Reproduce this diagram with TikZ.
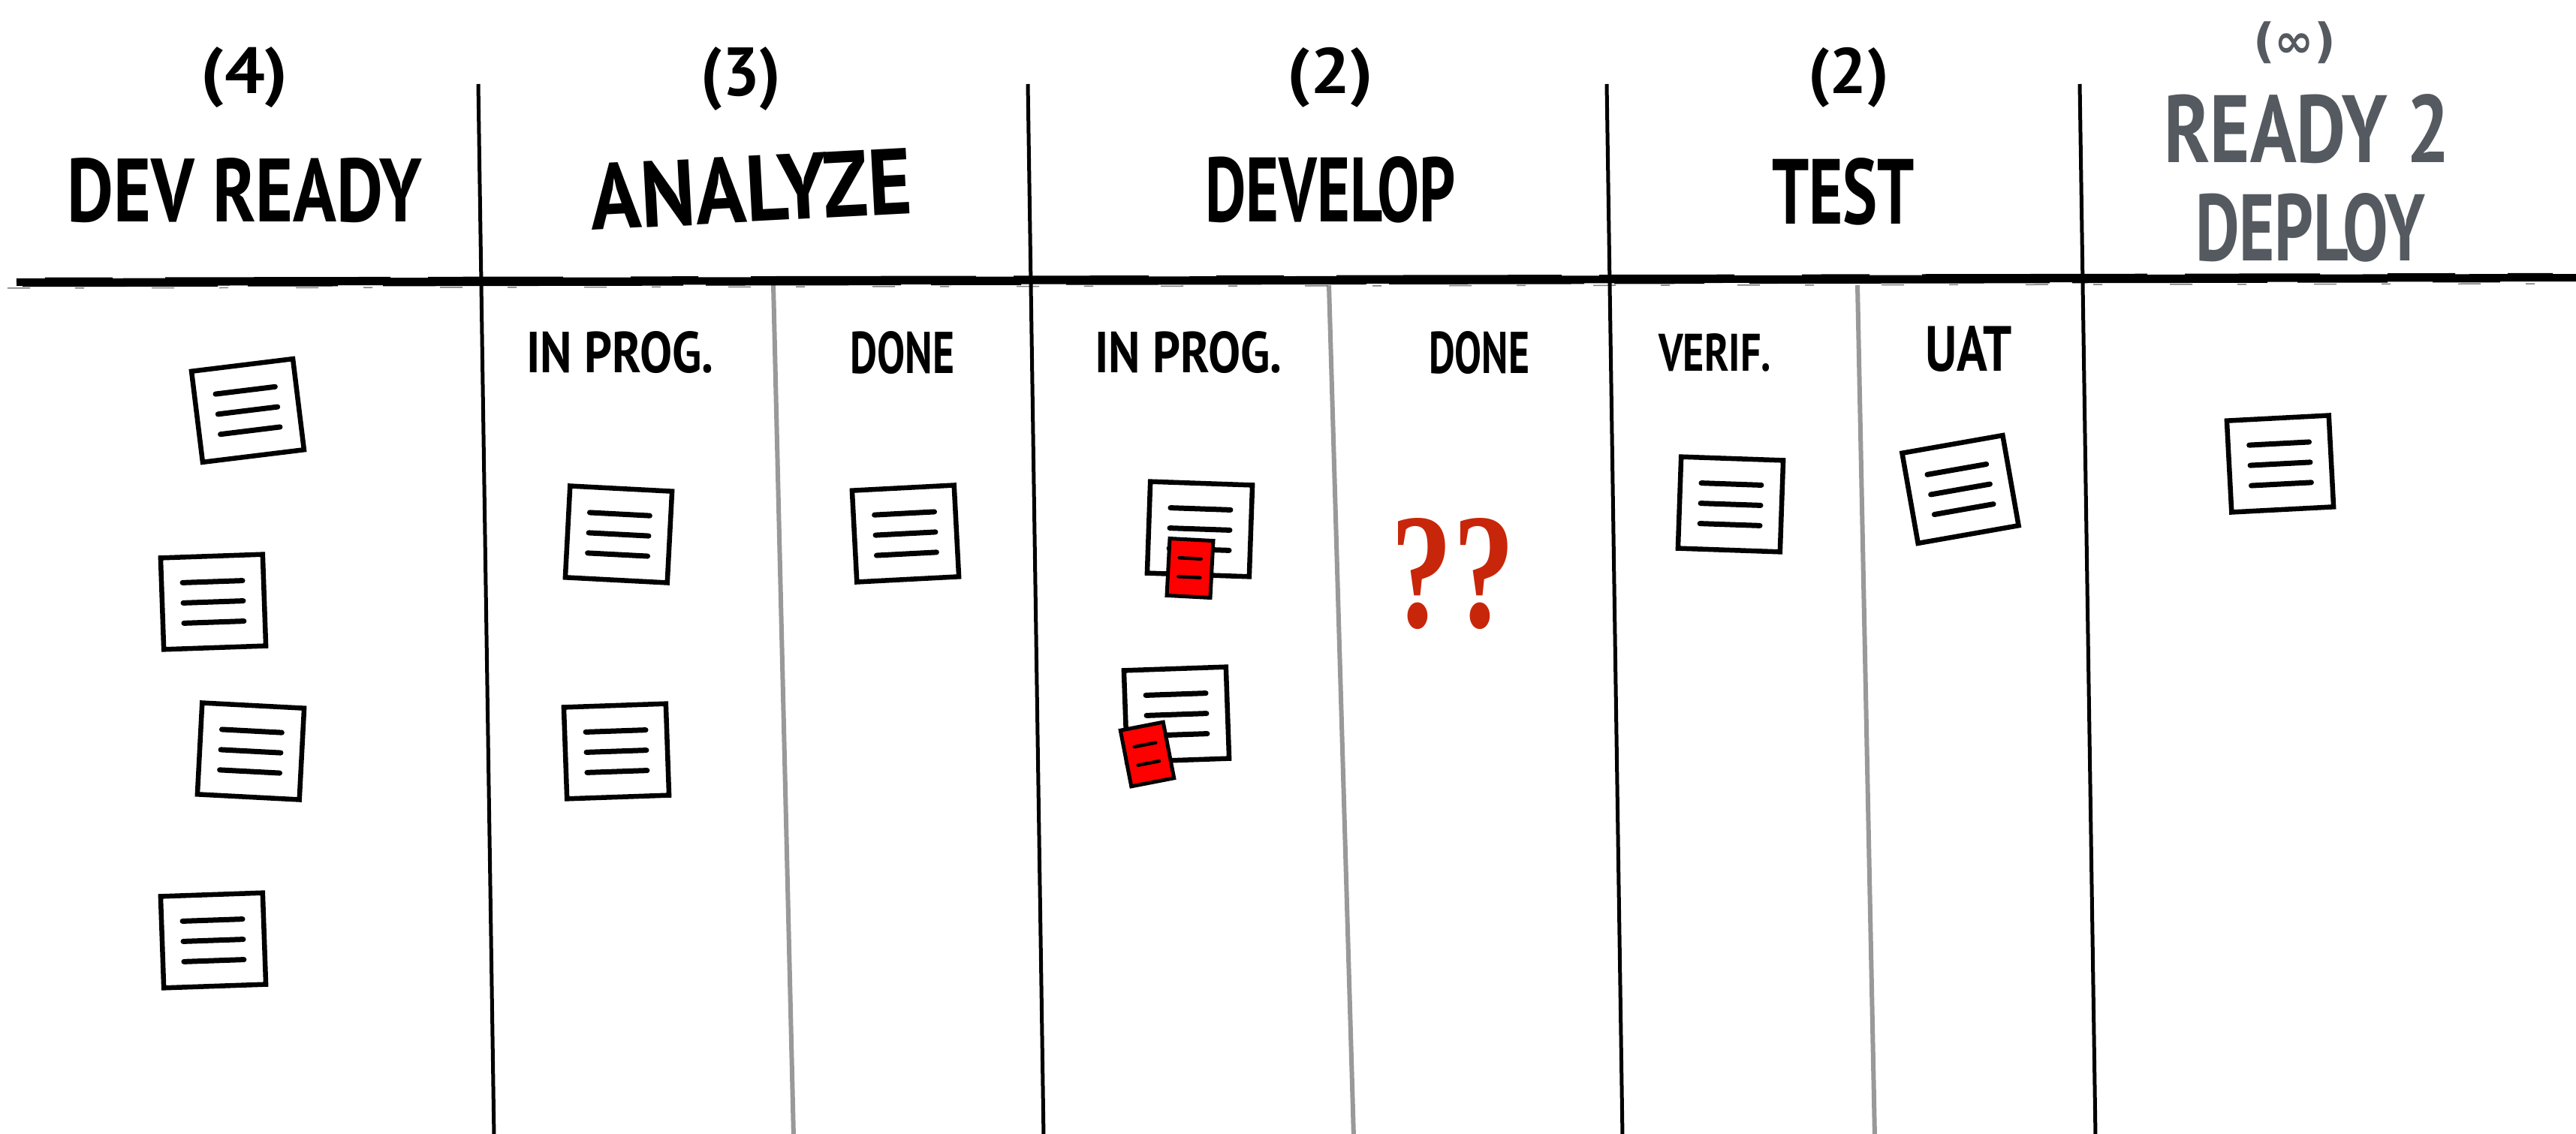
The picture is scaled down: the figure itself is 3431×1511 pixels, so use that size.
\documentclass[tikz,border=0pt]{standalone}
\usepackage{fontspec}
\setmainfont{PT Sans}
\newfontfamily\qmarkfont{Liberation Serif}
\newfontfamily\symfont{DejaVu Sans}

\definecolor{deploygrey}{RGB}{85,90,96}
\definecolor{lanegrey}{RGB}{153,153,153}
\definecolor{blockred}{RGB}{255,0,0}
\definecolor{askred}{RGB}{200,38,10}

% text squeezed into a box of given width and height (in pt)
\newcommand\fitto[3]{\resizebox{#1pt}{#2pt}{#3}}
\newcommand\fittotal[3]{\resizebox*{#1pt}{#2pt}{#3}}

\tikzset{
  lbl/.style={inner sep=0pt, anchor=center, font=\fontsize{100}{100}\selectfont\bfseries},
  colline/.style={line width=5pt, black},
  subline/.style={line width=6pt, lanegrey},
  brush/.style={line width=2.5pt, black},
  cardbox/.style={draw=black, line width=6.5pt, fill=white, minimum width=136pt,
    minimum height=122pt, inner sep=0pt, transform shape},
  cardline/.style={line width=7pt, line cap=round, black},
  blockbox/.style={draw=black, line width=5pt, fill=blockred, minimum width=58pt,
    minimum height=76pt, inner sep=0pt, transform shape},
  blockline/.style={line width=4.5pt, line cap=round, black},
  card/.pic={
    \node[cardbox] (-box) {};
    \foreach \yy in {-27,0,27} \draw[cardline] (-40,\yy) -- (40,\yy);
  },
  blocker/.pic={
    \node[blockbox] (-box) {};
    \draw[blockline] (-15,-13) -- (14,-13);
    \draw[blockline] (-15,12) -- (14,12);
  },
}

\begin{document}
\begin{tikzpicture}[x=1pt, y=-1pt]
  \fill[white] (0,0) rectangle (3431,1511);
  \useasboundingbox (0,0) rectangle (3431,1511);

  % column separators
  \draw[colline] (637,112) -- (658,1515);
  \draw[colline] (1369,112) -- (1390,1515);
  \draw[colline] (2140,112) -- (2161,1515);
  \draw[colline] (2770,112) -- (2791,1515);

  % sub-column separators
  \draw[subline] (1030,380) -- (1057,1515);
  \draw[subline] (1770,380) -- (1803,1515);
  \draw[subline] (2474,380) -- (2497,1515);

  % brushed header rule: a heavy stroke with ragged streaks along its edges
  \draw[line width=10pt] (22,376) -- (3431,370);
  \draw[brush, dash pattern=on 260pt off 40pt on 120pt off 60pt on 400pt off 30pt]
    (30,381) -- (3330,375);
  \draw[brush, dash pattern=on 90pt off 70pt on 300pt off 50pt on 180pt off 90pt]
    (60,371) -- (3400,365);
  \draw[line width=1.5pt, opacity=.5, dash pattern=on 30pt off 60pt on 12pt off 90pt]
    (10,384) -- (3420,378);

  % column titles and WIP limits
  \node[lbl] (wip1) at (326,103) {\fittotal{116}{81}{(4)}};
  \node[lbl] (col1) at (326,254) {\fitto{473}{85}{DEV READY}};
  \node[lbl] (wip2) at (987,105) {\fittotal{107}{85}{(3)}};
  \node[lbl, rotate=3] (col2) at (1000,252) {\fitto{428}{88}{ANALYZE}};
  \node[lbl] (wip3) at (1772,103) {\fittotal{115}{80}{(2)}};
  \node[lbl] (col3) at (1772,253) {\fitto{333}{87}{DEVELOP}};
  \node[lbl] (wip4) at (2462,103) {\fittotal{108}{80}{(2)}};
  \node[lbl] (col4) at (2455,255) {\fitto{190}{88}{TEST}};
  \node[lbl, text=deploygrey] (wip5) at (3056,57) {\fittotal{110}{56}{\symfont(∞)}};
  \node[lbl, text=deploygrey] (col5a) at (3073,172) {\fitto{381}{91}{READY 2}};
  \node[lbl, text=deploygrey] (col5b) at (3077,303) {\fitto{306}{90}{DEPLOY}};

  % sub-column titles
  \node[lbl] (sub1) at (826,470) {\fitto{249}{55}{IN PROG.}};
  \node[lbl] (sub2) at (1202,470) {\fitto{139}{56}{DONE}};
  \node[lbl] (sub3) at (1583,470) {\fitto{249}{55}{IN PROG.}};
  \node[lbl] (sub4) at (1970,470) {\fitto{134}{56}{DONE}};
  \node[lbl] (sub5) at (2284,470) {\fitto{150}{50}{VERIF.}};
  \node[lbl] (sub6) at (2622,465) {\fitto{116}{60}{UAT}};

  % work items
  \pic[rotate=7]  (c1)  at (330,547)  {card};
  \pic[rotate=2]  (c2)  at (284,802)  {card};
  \pic[rotate=-3] (c3)  at (334,1001) {card};
  \pic[rotate=2]  (c4)  at (284,1253) {card};
  \pic[rotate=-3] (c5)  at (824,712)  {card};
  \pic[rotate=2]  (c6)  at (821,1001) {card};
  \pic[rotate=3]  (c7)  at (1206,711) {card};
  \pic[rotate=-2] (c8)  at (1598,705) {card};
  \pic[rotate=2]  (c9)  at (1567,952) {card};
  \pic[rotate=-2] (c10) at (2305,672) {card};
  \pic[rotate=10] (c11) at (2611,652) {card};
  \pic[rotate=3]  (c12) at (3037,618) {card};

  % blockers
  \pic[rotate=-3] (b1) at (1585,757)  {blocker};
  \pic[rotate=11] (b2) at (1528,1005) {blocker};

  % empty done lane
  \node[lbl, text=askred] (ask) at (1935,765) {\fitto{165}{145}{\qmarkfont\bfseries ??}};
\end{tikzpicture}
\end{document}
